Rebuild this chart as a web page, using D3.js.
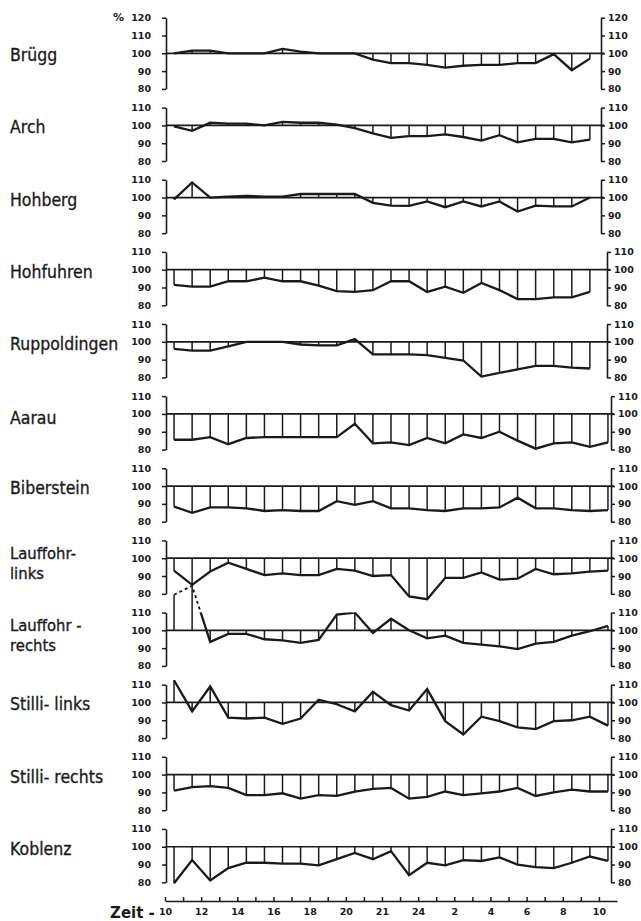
<!DOCTYPE html>
<html>
<head>
<meta charset="utf-8">
<script src="https://cdn.jsdelivr.net/npm/d3@7"></script>
<style>
  html, body { margin: 0; padding: 0; background: #ffffff; }
  svg { display: block; }
  .lbl { font-family: "DejaVu Sans", sans-serif; font-size: 17.5px; fill: #1a1a1a; stroke: #1a1a1a; stroke-width: 0.35px; }
  .lbl2 { font-size: 16.5px; }
  .tick text { font-family: "DejaVu Sans", sans-serif; font-weight: bold; font-size: 9.5px; fill: #1a1a1a; }
</style>
</head>
<body>
<script>
// ---------- data ----------
const stations = ["Brügg","Arch","Hohberg","Hohfuhren","Ruppoldingen","Aarau","Biberstein",
  "Lauffohr-links","Lauffohr-rechts","Stilli-links","Stilli-rechts","Koblenz"];
const stationLabels = [["Brügg"],["Arch"],["Hohberg"],["Hohfuhren"],["Ruppoldingen"],["Aarau"],["Biberstein"],
  ["Lauffohr-","links"],["Lauffohr -","rechts"],["Stilli- links"],["Stilli- rechts"],["Koblenz"]];

// values in % (100 = reference), one reading per hour starting 10.30
const bruegg = [100,101.5,101.5,100,100,100,102.5,101,100,100,100,96.5,94.5,94.5,93.5,92,93,93.5,93.5,94.5,94.5,99.5,90.5,97];
const arch = [99.5,97,101.5,101,101,100,102,101.5,101.5,100.5,98.5,95.5,93,94,94,95,93.5,91.5,94.5,90.5,92.5,92.5,90.5,92];
const hohberg = [99,108.5,100,100.5,101,100.5,100.5,102,102,102,102,97,95.5,95.3,97.8,94.6,97.8,95,97.8,92.1,95.5,95,95,100];
const hohfuhren = [91.5,90.5,90.5,93.5,93.5,95.5,93.5,93.5,91,88,87.5,88.5,93.5,93.5,87.5,90.5,87,92.5,88.5,83.5,83.5,84.5,84.5,87.5];
const ruppoldingen = [96,95,95,97.5,100,100,100,98.5,98,98,101.5,93,93,93,92.5,91,89.5,80.5,82.5,84.5,86.5,86.5,85.5,85];
const aarau = [85.5,85.5,87,83,86.5,87,87,87,87,87,94.5,83.5,84,82.5,86.5,83.5,88.5,86.5,90,85,80.5,83.5,84,81.5,84];
const biberstein = [88.5,85,88,88,87.5,86,86.5,86,86,91.5,89.5,91.5,87.5,87.5,86.5,86,87.5,87.5,88,93.5,87.5,87.5,86.5,86,86.5];
const lauffohrLinks = [93,85,92.5,97.5,94,90.5,91.5,90.5,90.5,94,93,90,90.5,78.5,77,89,89,92,88,88.5,94,91,91.5,92.5,93];
const lauffohrRechts = [120,125,93.5,98,98,95,94.4,93,94.6,108.9,110,98.5,106.5,100,95.5,97,93,92,91,89.5,92.5,93.5,97,99.5,102.5];
const stilliLinks = [112.5,95,109,91.5,91,91.5,88,91,101.5,99,95,106,98.5,95.5,107.5,89.5,82,92,89.5,86,85,89.5,90,92,87];
const stilliRechts = [91,93,93.5,92.5,88.5,88.5,89.5,86.5,88.5,88,90.5,92,92.5,86.5,87.5,90.5,88.5,89.5,90.5,92.5,88,90,91.5,90.5,90.5];
const koblenz = [79.5,92.5,81,88,91,91,90.5,90.5,89.5,93,96.5,93,97.5,84,91,89.5,92.5,92,94,90,88.5,88,91,94.5,92];

const seriesValues = [bruegg,arch,hohberg,hohfuhren,ruppoldingen,aarau,biberstein,
  lauffohrLinks,lauffohrRechts,stilliLinks,stilliRechts,koblenz];
const dashedAboveFrame = ["Lauffohr-rechts"];   // part of the curve outside the frame drawn dashed

const hourLabels = ["10","12","14","16","18","20","21","24","2","4","6","8","10"];
const yTicks = [80,90,100,110];
const yTicksFirst = [80,90,100,110,120];

// ---------- layout ----------
const W = 641, H = 921;
const ink = "#1a1a1a";
const svg = d3.select("body").append("svg").attr("width", W).attr("height", H);
const defs = svg.append("defs");

const x = d3.scaleLinear().domain([0, 25]).range([165, 617]);
const leftX = 166;
const base0 = 53.3, pitch = 72.13, unit = 1.78; // px per %

function label(g, txt, yy, cls) {
  g.append("text").attr("class", cls)
    .attr("transform", `translate(10,${yy}) scale(0.9,1)`).text(txt);
}

stations.forEach((name, i) => {
  const vals = seriesValues[i];
  const base = base0 + pitch * i;
  const y = d3.scaleLinear().domain([100, 110]).range([base, base - 10 * unit]);
  const top = i === 0 ? 120 : 110;
  const ax = y.copy().domain([80, top]).range([y(80), y(top)]);
  const rightX = i < 3 ? 601 : (i < 5 ? 607 : 611);
  const g = svg.append("g");

  // label
  const lines = stationLabels[i];
  if (lines.length === 1) {
    label(g, lines[0], base + (name === "Aarau" ? 10 : 8), "lbl");
  } else {
    lines.forEach((l, k) => label(g, l, base + 1 + k * 20, "lbl lbl2"));
  }

  // left axis
  const la = g.append("g").attr("transform", `translate(${leftX},0)`)
    .call(d3.axisLeft(ax).tickValues(i === 0 ? yTicksFirst : yTicks).tickSize(4).tickSizeOuter(0).tickPadding(11));
  la.select(".domain").attr("stroke", ink).attr("stroke-width", 1.6);
  la.selectAll(".tick line").attr("stroke", ink).attr("stroke-width", 1.5);

  // right axis
  const ra = g.append("g").attr("transform", `translate(${rightX},0)`)
    .call(d3.axisRight(ax).tickValues(i === 0 ? yTicksFirst : yTicks).tickSize(4).tickSizeOuter(0).tickPadding(3));
  ra.select(".domain").attr("stroke", ink).attr("stroke-width", 1.6);
  ra.selectAll(".tick line").attr("stroke", ink).attr("stroke-width", 1.5);
  ra.selectAll(".tick text").attr("text-anchor", "start");

  // baseline 100
  g.append("line").attr("x1", leftX).attr("x2", rightX + 3)
    .attr("y1", y(100)).attr("y2", y(100)).attr("stroke", ink).attr("stroke-width", 1.7);

  const pts = vals.map((v, k) => [x(k + 0.5), y(v)]);

  // drop lines
  g.selectAll("line.drop").data(vals).enter().append("line").attr("class", "drop")
    .attr("x1", (d, k) => x(k + 0.5)).attr("x2", (d, k) => x(k + 0.5))
    .attr("y1", y(100)).attr("y2", d => y(d))
    .attr("stroke", ink).attr("stroke-width", 1.5);

  // curve
  const line = d3.line();
  if (dashedAboveFrame.includes(name)) {
    const yTop = y(110);
    defs.append("clipPath").attr("id", "cs" + i).append("rect")
      .attr("x", 0).attr("y", yTop).attr("width", W).attr("height", H);
    defs.append("clipPath").attr("id", "cd" + i).append("rect")
      .attr("x", 0).attr("y", 0).attr("width", W).attr("height", yTop);
    g.append("path").attr("d", line(pts)).attr("fill", "none").attr("stroke", ink)
      .attr("stroke-width", 2.3).attr("stroke-linejoin", "miter").attr("clip-path", `url(#cs${i})`);
    g.append("path").attr("d", line(pts)).attr("fill", "none").attr("stroke", ink)
      .attr("stroke-width", 1.9).attr("stroke-dasharray", "3,3").attr("clip-path", `url(#cd${i})`);
  } else {
    g.append("path").attr("d", line(pts)).attr("fill", "none").attr("stroke", ink)
      .attr("stroke-width", 2.3).attr("stroke-linejoin", "miter");
  }
});

// "%" sign
svg.append("text").attr("x", 113).attr("y", 21).attr("font-family", "DejaVu Sans, sans-serif")
  .attr("font-weight", "bold").attr("font-size", 11).attr("fill", ink).text("%");

// time axis
const xa = svg.append("g").attr("transform", "translate(0,901)")
  .call(d3.axisBottom(x).tickValues(d3.range(0, 25)).tickSizeInner(-4).tickSizeOuter(0).tickPadding(7)
    .tickFormat(h => h % 2 === 0 ? hourLabels[h / 2] : ""));
xa.select(".domain").attr("stroke", ink).attr("stroke-width", 1.6);
xa.selectAll(".tick line").attr("stroke", ink).attr("stroke-width", 1.5);

svg.append("text").attr("x", 110).attr("y", 918).attr("font-family", "DejaVu Sans, sans-serif")
  .attr("font-weight", "bold").attr("font-size", 15).attr("fill", ink).text("Zeit -");
</script>
</body>
</html>
